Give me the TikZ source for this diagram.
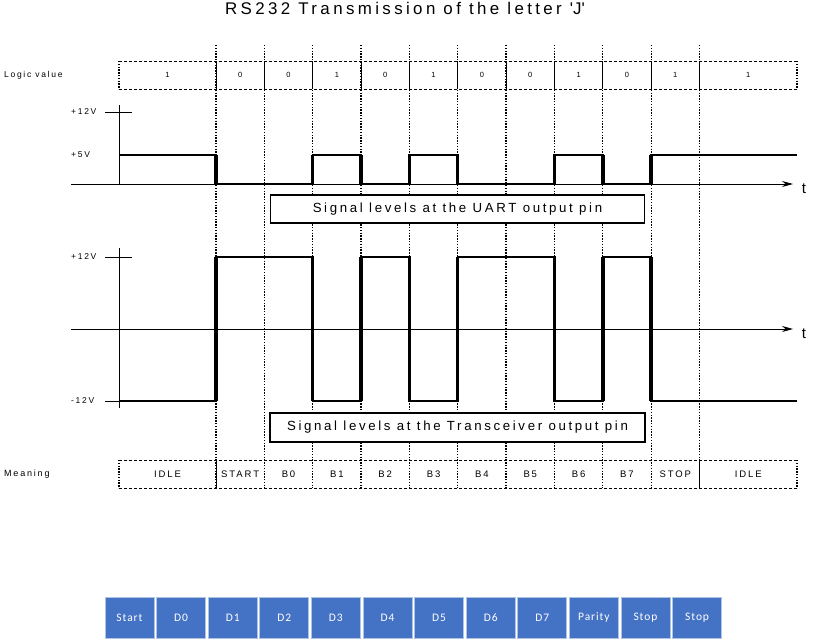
\documentclass[tikz,border=0pt]{standalone}
\usepackage{fontspec}
\setmainfont{Liberation Sans}[LetterSpace=20]
\newfontfamily\cellfont{Carlito}[LetterSpace=8]
\usetikzlibrary{arrows.meta}

\definecolor{cellblue}{RGB}{68,114,196}
\definecolor{celledge}{RGB}{175,195,228}

\tikzset{
  sig/.style={line width=2.2pt, line join=miter},
  sigedge/.style={line width=3.4pt},
  axis/.style={line width=0.8pt},
  dotline/.style={line width=1.3pt, dash pattern=on 1.3pt off 1.5pt},
  rowbox/.style={line width=0.9pt, dash pattern=on 3pt off 2pt},
  lbl/.style={font=\fontsize{8.5}{10}\selectfont, inner sep=0pt, anchor=west},
  bitval/.style={font=\fontsize{7.5}{9}\selectfont, inner sep=0pt},
  meantxt/.style={font=\fontsize{9.5}{11}\selectfont, inner sep=0pt},
  tlabel/.style={font=\fontsize{15}{17}\selectfont, inner sep=0pt},
  labelbox/.style={draw, fill=white, line width=1.2pt, minimum width=374pt,
    minimum height=28pt, font=\fontsize{13.25}{15}\selectfont},
  framecell/.style={draw=celledge, line width=1pt, fill=cellblue, text=white,
    minimum width=49pt, minimum height=41pt, font=\cellfont\fontsize{11.5}{13}\selectfont}
}

\begin{document}
\begin{tikzpicture}[x=1pt, y=-1pt]
\useasboundingbox (0,0) rectangle (814,640);

\node[font=\fontsize{16.9}{18}\selectfont, anchor=base] (title) at (405,14.5)
  {RS232 Transmission of the letter \textquotesingle J\textquotesingle};

% bit boundaries
\foreach \k in {0,...,10} {
    \pgfmathsetmacro{\bx}{216+48.35*\k}
    \coordinate (b\k) at (\bx,0);
    \draw[dotline] (\bx,45) -- (\bx,488);
    \draw[line width=0.9pt] (\bx,61) -- (\bx,89);
}
\draw[line width=0.9pt] (b0 |- 0,460) -- (b0 |- 0,488);
\draw[line width=0.9pt] (b10 |- 0,460) -- (b10 |- 0,488);

% Logic value row
\node[lbl] (logic) at (4,75) {Logic value};
\draw[rowbox] (119,61) -- (797,61) (119,89) -- (797,89);
\draw[dotline] (119,61) -- (119,89) (797,61) -- (797,89);
\foreach \v [count=\i from 0] in {1,0,0,1,0,1,0,0,1,0,1,1} {
    \pgfmathsetmacro{\cx}{\i==0 ? 167.5 : (\i==11 ? 748.25 : 216+48.35*(\i-0.5))}
    \node[bitval] (lv\i) at (\cx,75) {\v};
}

% UART output
\coordinate (uhi) at (119,155);
\coordinate (ulo) at (119,184);
\draw[axis, -{Stealth[length=11pt, width=6pt]}] (71,184) -- (793,184);
\node[tlabel] (tu) at (804,189) {t};
\draw[axis] (119,105) -- (119,184);
\draw[axis] (105,112) -- (132,112);
\node[lbl] (u12) at (71,112) {+12V};
\node[lbl] (u5) at (71,155) {+5V};
\draw[sig] (uhi) -- (b0 |- uhi) -- (b0 |- ulo) -- (b2 |- ulo) -- (b2 |- uhi)
  -- (b3 |- uhi) -- (b3 |- ulo) -- (b4 |- ulo) -- (b4 |- uhi) -- (b5 |- uhi)
  -- (b5 |- ulo) -- (b7 |- ulo) -- (b7 |- uhi) -- (b8 |- uhi) -- (b8 |- ulo)
  -- (b9 |- ulo) -- (b9 |- uhi) -- (797,155);
\node[labelbox] (uartlbl) at (457.5,209) {Signal levels at the UART output pin};

% Transceiver output
\coordinate (thi) at (119,257);
\coordinate (tlo) at (119,401);
\draw[axis, -{Stealth[length=11pt, width=6pt]}] (71,329) -- (793,329);
\node[tlabel] (tt) at (804,334) {t};
\draw[axis] (119,248) -- (119,408);
\draw[axis] (105,257) -- (132,257);
\draw[axis] (105,401) -- (119,401);
\node[lbl] (t12) at (71,257) {+12V};
\node[lbl] (tm12) at (71,401) {-12V};
\draw[sig] (tlo) -- (b0 |- tlo) -- (b0 |- thi) -- (b2 |- thi) -- (b2 |- tlo)
  -- (b3 |- tlo) -- (b3 |- thi) -- (b4 |- thi) -- (b4 |- tlo) -- (b5 |- tlo)
  -- (b5 |- thi) -- (b7 |- thi) -- (b7 |- tlo) -- (b8 |- tlo) -- (b8 |- thi)
  -- (b9 |- thi) -- (b9 |- tlo) -- (797,401);
\foreach \k in {0,2,3,4,5,7,8,9} {
    \draw[sigedge] (b\k |- uhi) -- (b\k |- ulo);
    \draw[sigedge] (b\k |- thi) -- (b\k |- tlo);
}
\node[labelbox, minimum width=375pt, minimum height=29pt] (xcvrlbl) at (457.5,427.5)
  {Signal levels at the Transceiver output pin};

% Meaning row
\node[lbl, font=\fontsize{9}{11}\selectfont] (meaning) at (4,474) {Meaning};
\draw[rowbox] (119,460) -- (797,460) (119,488) -- (797,488);
\draw[dotline] (119,460) -- (119,488) (797,460) -- (797,488);
\foreach \m [count=\i from 0] in {IDLE,START,B0,B1,B2,B3,B4,B5,B6,B7,STOP,IDLE} {
    \pgfmathsetmacro{\cx}{\i==0 ? 167.5 : (\i==11 ? 748.25 : 216+48.35*(\i-0.5))}
    \node[meantxt] (mn\i) at (\cx,474) {\m};
}

% frame cells
\foreach \t [count=\i from 0] in {Start,D0,D1,D2,D3,D4,D5,D6,D7,Parity,Stop,Stop} {
    \node[framecell] (fc\i) at (129.5+51.6*\i,617.5) {\t};
}
\end{tikzpicture}
\end{document}
